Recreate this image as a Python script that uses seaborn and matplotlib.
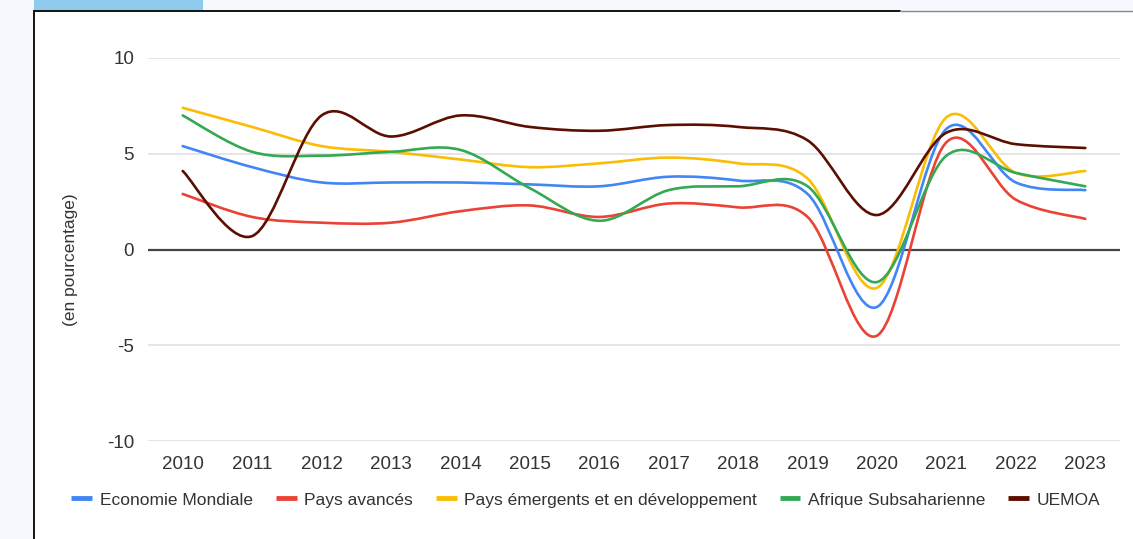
import numpy as np
import pandas as pd
import seaborn as sb
import matplotlib.pyplot as plt
from matplotlib.path import Path
from matplotlib.patches import PathPatch, Rectangle
from matplotlib.lines import Line2D


# donnees (croissance en %)
annees = list(range(2010, 2024))
economie_mondiale = [5.4, 4.3, 3.5, 3.5, 3.5, 3.4, 3.3, 3.8, 3.6, 2.9, -3.0, 6.3, 3.5, 3.1]
pays_avances = [2.9, 1.7, 1.4, 1.4, 2.0, 2.3, 1.7, 2.4, 2.2, 1.7, -4.5, 5.6, 2.6, 1.6]
pays_emergents = [7.4, 6.4, 5.4, 5.1, 4.7, 4.3, 4.5, 4.8, 4.5, 3.7, -2.0, 6.9, 4.0, 4.1]
afrique_subsaharienne = [7.0, 5.1, 4.9, 5.1, 5.2, 3.2, 1.5, 3.1, 3.3, 3.3, -1.7, 4.9, 4.0, 3.3]
uemoa = [4.1, 0.7, 7.0, 5.9, 7.0, 6.4, 6.2, 6.5, 6.4, 5.7, 1.8, 6.1, 5.5, 5.3]

series = ['Economie Mondiale', 'Pays avancés', 'Pays émergents et en développement',
          'Afrique Subsaharienne', 'UEMOA']
couleurs = ['#4285f4', '#ea4335', '#fbbc04', '#34a853', '#5b0f00']


# courbe lissee (catmull-rom -> bezier) a partir des points d'une ligne
def smooth_path(xy):
    verts = [tuple(xy[0])]
    codes = [Path.MOVETO]
    n = len(xy)
    for i in range(n - 1):
        p0 = xy[max(i - 1, 0)]
        p1 = xy[i]
        p2 = xy[i + 1]
        p3 = xy[min(i + 2, n - 1)]
        c1 = p1 + (p2 - p0) / 6
        c2 = p2 - (p3 - p1) / 6
        verts += [tuple(c1), tuple(c2), tuple(p2)]
        codes += [Path.CURVE4] * 3
    return Path(verts, codes)


df = pd.DataFrame({
    'annee': annees * 5,
    'valeur': economie_mondiale + pays_avances + pays_emergents + afrique_subsaharienne + uemoa,
    'serie': [s for s in series for _ in annees],
})

sb.set_theme(style='white')
plt.rcParams['font.family'] = ['Liberation Sans', 'DejaVu Sans']

fig = plt.figure(figsize=(11.33, 5.39), dpi=100)
fig.patch.set_facecolor('#f5f9fd')

# cadre blanc + onglet bleu
fig.patches.append(Rectangle((34 / 1133, 0), 1.0, 1 - 11 / 539, transform=fig.transFigure,
                             facecolor='white', edgecolor='none', zorder=-10))
fig.patches.append(Rectangle((34 / 1133, 1 - 10 / 539), (203 - 34) / 1133, 10 / 539,
                             transform=fig.transFigure, facecolor='#8ecaeb', edgecolor='none', zorder=-10))
fig.lines.append(Line2D([34 / 1133, 34 / 1133], [0, 1 - 11 / 539], transform=fig.transFigure,
                        color='black', lw=1.3))
fig.lines.append(Line2D([34 / 1133, 900 / 1133], [1 - 11 / 539, 1 - 11 / 539],
                        transform=fig.transFigure, color='black', lw=1.3))
fig.lines.append(Line2D([900 / 1133, 1], [1 - 11 / 539, 1 - 11 / 539],
                        transform=fig.transFigure, color='#888888', lw=1.0))

ax = fig.add_axes([148 / 1133, 98 / 539, 972 / 1133, 383 / 539])
ax.set_facecolor('none')

sb.lineplot(data=df, x='annee', y='valeur', hue='serie', hue_order=series,
            palette=couleurs, legend=False, ax=ax)

# remplacer les segments droits par des courbes lissees
for line, c in zip(list(ax.lines), couleurs):
    xy = line.get_xydata()
    line.set_visible(False)
    ax.add_patch(PathPatch(smooth_path(xy), facecolor='none', edgecolor=c, lw=1.9,
                           capstyle='round', joinstyle='round', zorder=3))

ax.set_xlim(2009.5, 2023.5)
ax.set_ylim(-10, 10)
ax.set_yticks([-10, -5, 0, 5, 10])
ax.set_yticklabels(['-10', '-5', '0', '5', '10'])
ax.set_xticks(annees)
ax.set_xticklabels([str(a) for a in annees])
for y in [-10, -5, 5, 10]:
    ax.axhline(y, color='#e0e0e0', lw=1.2, zorder=1)
ax.axhline(0, color='#444444', lw=1.6, zorder=2)

for s in ax.spines.values():
    s.set_visible(False)
ax.tick_params(axis='x', length=0, pad=11, labelsize=13.5, labelcolor='#333333')
ax.tick_params(axis='y', length=0, pad=10, labelsize=13.5, labelcolor='#333333')
ax.set_xlabel('')
ax.set_ylabel('(en pourcentage)', fontsize=12.5, color='#333333')
ax.yaxis.set_label_coords(-0.072, 0.473)

handles = [Line2D([0], [0], color=c, lw=3.5, solid_capstyle='butt') for c in couleurs]
fig.legend(handles, series, loc='center', bbox_to_anchor=(586 / 1133, 1 - 500 / 539), ncol=5,
           frameon=False, fontsize=12.5, handlelength=1.2, handletextpad=0.45,
           columnspacing=1.3, labelcolor='#333333')

plt.savefig('out.png', dpi=100, facecolor=fig.get_facecolor())
